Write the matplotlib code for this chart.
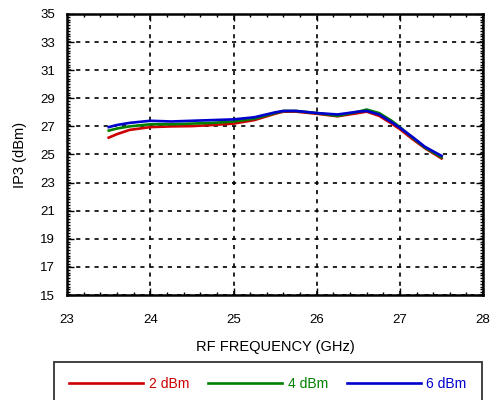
import matplotlib
matplotlib.use("Agg")
import matplotlib.pyplot as plt
from matplotlib.ticker import MultipleLocator

plt.rcParams["font.family"] = ["Liberation Sans", "DejaVu Sans"]

# ---- Dados ----
freq_ghz = [23.5, 23.6, 23.75, 24.0, 24.25, 24.5, 24.75, 25.0, 25.25, 25.5, 25.6,
            25.75, 26.0, 26.25, 26.5, 26.6, 26.75, 26.9, 27.0, 27.15, 27.3, 27.5]
ip3_2dbm = [26.2, 26.45, 26.75, 26.95, 27.0, 27.02, 27.1, 27.2, 27.45, 27.9, 28.05,
            28.05, 27.9, 27.72, 27.95, 28.05, 27.75, 27.2, 26.8, 26.1, 25.45, 24.72]
ip3_4dbm = [26.7, 26.85, 27.0, 27.15, 27.15, 27.2, 27.25, 27.35, 27.55, 27.95, 28.1,
            28.1, 27.95, 27.75, 28.05, 28.2, 27.95, 27.4, 26.95, 26.2, 25.5, 24.8]
ip3_6dbm = [26.95, 27.1, 27.25, 27.4, 27.35, 27.4, 27.45, 27.5, 27.65, 28.0, 28.1,
            28.1, 27.95, 27.85, 28.05, 28.1, 27.85, 27.3, 26.9, 26.25, 25.55, 24.9]

x_ticks = [23, 24, 25, 26, 27, 28]
y_ticks = [15, 17, 19, 21, 23, 25, 27, 29, 31, 33, 35]

series = [
    ("2 dBm", ip3_2dbm, "#cc0000"),
    ("4 dBm", ip3_4dbm, "#008000"),
    ("6 dBm", ip3_6dbm, "#0000cc"),
]

fig = plt.figure(figsize=(4.9, 4.0), dpi=100)
ax = fig.add_axes([0.137, 0.2625, 0.849, 0.7025])

for nome, valores, cor in series:
    ax.plot(freq_ghz, valores, color=cor, linewidth=1.9, label=nome)

ax.set_xlim(23, 28)
ax.set_ylim(15, 35)
ax.set_xticks(x_ticks)
ax.set_yticks(y_ticks)
ax.xaxis.set_minor_locator(MultipleLocator(0.2))
ax.yaxis.set_minor_locator(MultipleLocator(0.2))

ax.grid(True, which="major", color="black", linestyle=(0, (2.5, 3)), linewidth=1.2)
ax.tick_params(which="both", direction="in", top=True, right=True, width=1.0)
ax.tick_params(which="major", length=5, labelsize=9.5)
ax.tick_params(axis="x", which="major", pad=14)
ax.tick_params(axis="y", which="major", pad=8.5)
ax.tick_params(which="minor", length=2.5)
for s in ax.spines.values():
    s.set_linewidth(1.8)

ax.set_xlabel("RF FREQUENCY (GHz)", fontsize=10.5)
ax.set_ylabel("IP3 (dBm)", fontsize=10.5)
ax.xaxis.set_label_coords(0.5, -0.16)
ax.yaxis.set_label_coords(-0.096, 0.5)

# ---- Legenda em caixa embaixo ----
leg = fig.legend(loc="upper center", bbox_to_anchor=(268 / 490, 1 - 362 / 400),
                 ncol=3, fontsize=10, handlelength=5.3,
                 borderpad=1.1, columnspacing=1.4, handletextpad=0.4,
                 frameon=True, fancybox=False, edgecolor="black", borderaxespad=0)
leg.get_frame().set_linewidth(1.3)
for texto, (_, _, cor) in zip(leg.get_texts(), series):
    texto.set_color(cor)

fig.savefig("out.png", dpi=100)
